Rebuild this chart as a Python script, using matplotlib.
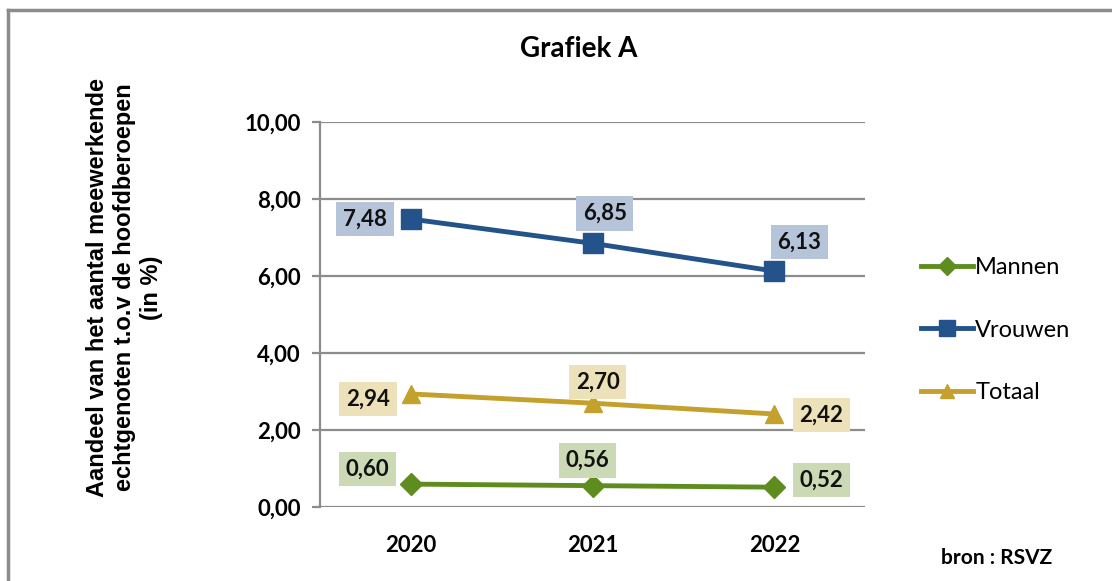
import matplotlib
matplotlib.use("Agg")
import matplotlib.pyplot as plt
from matplotlib.lines import Line2D

years = ["2020", "2021", "2022"]
mannen = [0.60, 0.56, 0.52]
vrouwen = [7.48, 6.85, 6.13]
totaal = [2.94, 2.70, 2.42]
yticks = [0, 2, 4, 6, 8, 10]

plt.rcParams["font.family"] = ["Lato", "DejaVu Sans"]

fig = plt.figure(figsize=(11.12, 5.81), dpi=100)
ax = fig.add_axes([0.288, 0.127, 0.49, 0.663])

x = list(range(len(years)))

series = [
    ("Mannen", mannen, "#5E8C1F", "D", 11, "#CBD9B5",
     [(-44, 15), (-5, 25), (47, 7)]),
    ("Vrouwen", vrouwen, "#24528A", "s", 14, "#B5C4D9",
     [(-46, 0), (12, 30), (25, 29)]),
    ("Totaal", totaal, "#C4A02C", "^", 13, "#EDE1BA",
     [(-43, -5), (5, 21), (47, -1)]),
]

for name, vals, col, mk, ms, boxcol, offs in series:
    ax.plot(x, vals, color=col, lw=3.5, marker=mk, markersize=ms,
            solid_capstyle="round", label=name, zorder=3)
    for xi, v, off in zip(x, vals, offs):
        ax.annotate(f"{v:.2f}".replace(".", ","), (xi, v), xytext=off,
                    textcoords="offset pixels", ha="center", va="center",
                    fontsize=16, fontweight="bold", color="#111111",
                    bbox=dict(boxstyle="square,pad=0.3", fc=boxcol, ec="none"),
                    zorder=4)

ax.set_xlim(-0.5, 2.5)
ax.set_ylim(0, 10)
ax.set_yticks(yticks)
ax.set_yticklabels([f"{t:.2f}".replace(".", ",") for t in yticks],
                   fontsize=16, fontweight="bold")
ax.set_xticks(x)
ax.set_xticklabels(years, fontsize=16, fontweight="bold")
ax.grid(axis="y", color="#8C8C8C", lw=1.6)
ax.set_axisbelow(True)
for s in ["top", "right", "bottom"]:
    ax.spines[s].set_visible(False)
ax.spines["left"].set_color("#8C8C8C")
ax.spines["left"].set_linewidth(1.6)
ax.tick_params(axis="y", length=6, width=1.6, color="#8C8C8C", pad=8)
ax.tick_params(axis="x", length=0, pad=20)

fig.text(0.112, 0.505,
         "Aandeel van het aantal meewerkende\nechtgenoten t.o.v de hoofdberoepen\n(in %)",
         rotation=90, ha="center", va="center", fontsize=17, fontweight="bold",
         family=["Liberation Sans", "DejaVu Sans"], linespacing=1.2)

fig.text(0.52, 0.915, "Grafiek A", ha="center", va="center",
         fontsize=20, fontweight="bold")
fig.text(0.896, 0.04, "bron : RSVZ", ha="center", va="center",
         fontsize=15, fontweight="bold")

handles = [Line2D([], [], color=c, lw=3.5, marker=m, markersize=ms * 0.8)
           for _, _, c, m, ms, _, _ in series]
fig.legend(handles, [s[0] for s in series], loc="center left",
           bbox_to_anchor=(0.809, 0.432), frameon=False, fontsize=17,
           handlelength=2.2, handletextpad=0.1, labelspacing=1.75)

# outer frame (top and left edges visible)
fig.add_artist(Line2D([0.007, 0.007], [0, 0.983], transform=fig.transFigure,
                      color="#8C8C8C", lw=2.5))
fig.add_artist(Line2D([0.007, 1.0], [0.983, 0.983], transform=fig.transFigure,
                      color="#8C8C8C", lw=2.5))

fig.savefig("out.png", dpi=100)
